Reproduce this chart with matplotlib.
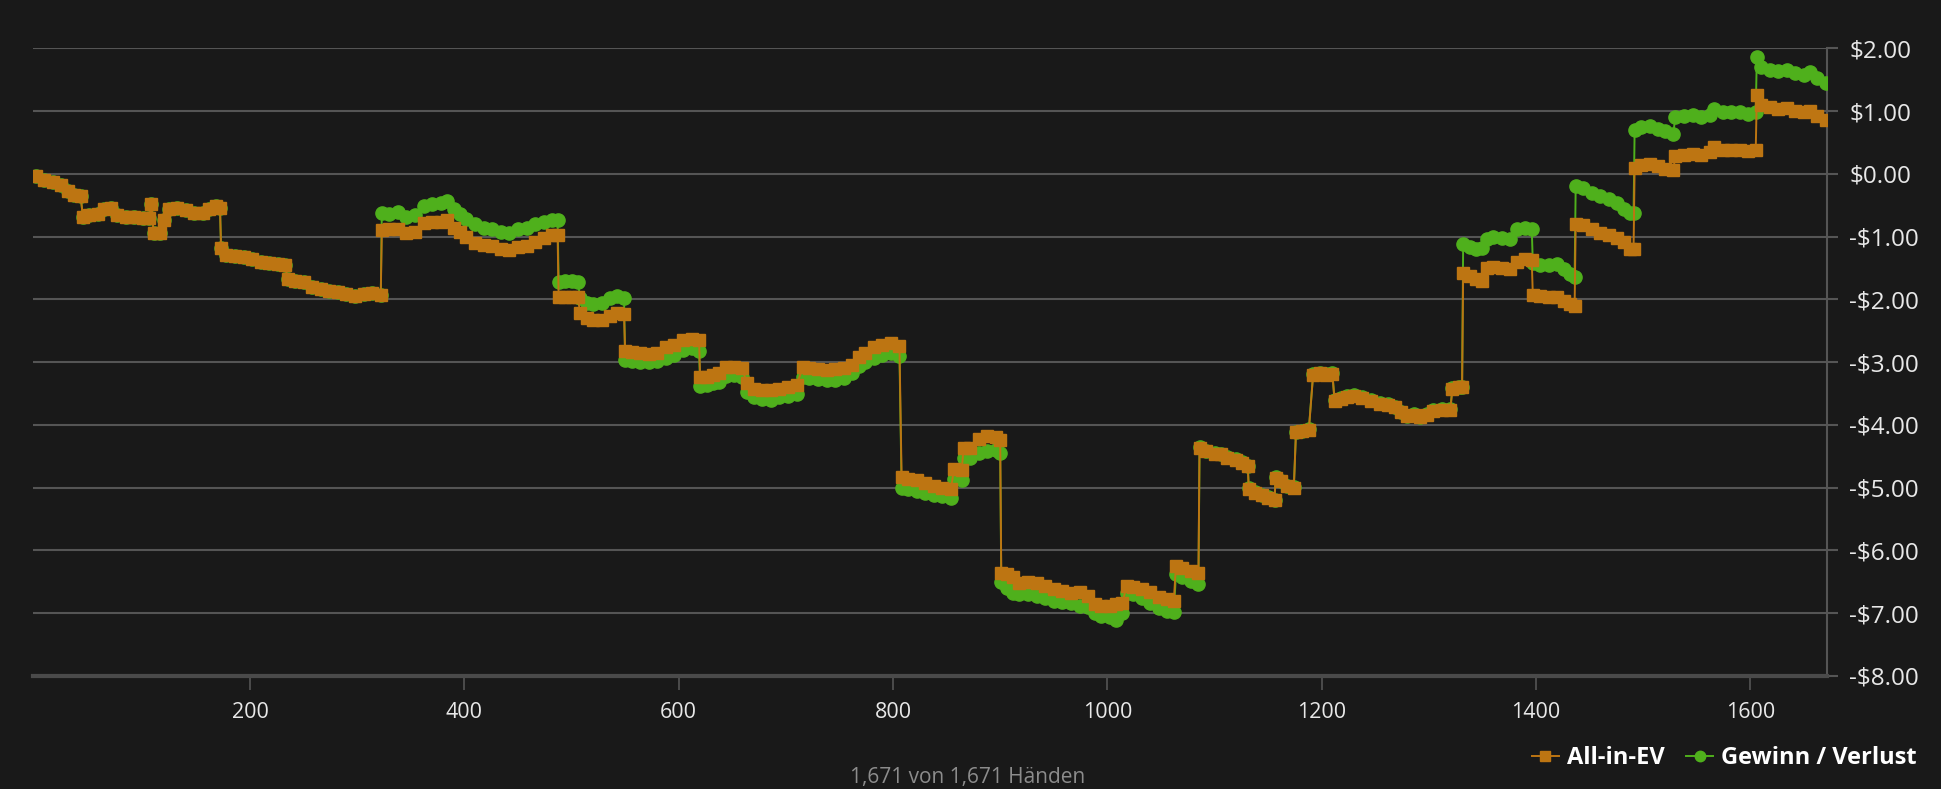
import matplotlib.pyplot as plt

plt.rcParams['font.family'] = ['Open Sans', 'DejaVu Sans']

hands = [0, 8, 16, 24, 30, 36, 42, 44, 50, 58, 64, 70, 76, 84, 92, 100, 106, 108, 110, 116,
         120, 124, 132, 140, 148, 156, 162, 168, 172, 173, 178, 186, 194, 202, 210, 218, 226, 233, 235, 242,
         250, 258, 266, 274, 282, 290, 298, 306, 314, 322,
         323, 330, 338, 346, 354, 362, 370, 378, 384, 390, 396, 402, 410, 418, 426, 434, 442, 450, 458, 466,
         474, 482, 487,
         488, 494, 500, 506, 508, 514, 520, 528, 536, 542, 549,
         550, 556, 564, 572, 580, 588, 596, 604, 612, 619,
         620, 626, 632, 638, 644, 652, 659, 664, 670, 678, 686, 694, 702, 710, 716, 722, 730, 738, 746, 754,
         762, 768, 774, 782, 790, 798, 806,
         808, 814, 822, 830, 838, 846, 854, 857, 864, 866, 872, 880, 888, 896, 900,
         901, 906, 912, 918, 926, 934, 942, 950, 958, 966, 974, 982, 988, 994, 1002, 1008, 1014, 1018, 1024, 1032,
         1040, 1048, 1056, 1062, 1064, 1070, 1078, 1085,
         1086, 1092, 1100, 1106, 1112, 1120, 1126, 1131, 1132, 1138, 1144, 1150, 1156, 1157, 1162, 1168, 1174, 1176,
         1182, 1188, 1192, 1198, 1204, 1210, 1212, 1218, 1224, 1230, 1238, 1246, 1254, 1262, 1268, 1274, 1280, 1286,
         1292, 1298, 1304, 1312, 1320, 1322, 1328, 1331,
         1332, 1338, 1344, 1350, 1354, 1360, 1368, 1376, 1382, 1390, 1396, 1397, 1404, 1412, 1420, 1426, 1432, 1436,
         1437, 1444, 1452, 1460, 1468, 1476, 1482, 1488, 1491, 1492, 1498, 1506, 1514, 1520, 1528, 1530, 1538, 1546,
         1554, 1562, 1566, 1574, 1582, 1590, 1598, 1605, 1606, 1610, 1618, 1626, 1634, 1642, 1650, 1656, 1662, 1671]

all_in_ev = [-0.03, -0.10, -0.13, -0.17, -0.27, -0.34, -0.36, -0.68, -0.66, -0.64, -0.56, -0.55, -0.66, -0.68, -0.68, -0.70, -0.70, -0.48, -0.94, -0.94,
             -0.74, -0.56, -0.54, -0.58, -0.62, -0.62, -0.56, -0.52, -0.55, -1.18, -1.30, -1.31, -1.33, -1.36, -1.40, -1.42, -1.44, -1.46, -1.68, -1.71,
             -1.73, -1.80, -1.84, -1.86, -1.88, -1.92, -1.95, -1.92, -1.90, -1.93,
             -0.89, -0.88, -0.88, -0.94, -0.92, -0.78, -0.76, -0.76, -0.74, -0.86, -0.92, -1.00, -1.10, -1.13, -1.15, -1.20, -1.21, -1.17, -1.15, -1.08,
             -1.02, -0.97, -0.98,
             -1.97, -1.97, -1.96, -1.97, -2.22, -2.30, -2.33, -2.33, -2.26, -2.22, -2.24,
             -2.82, -2.84, -2.85, -2.87, -2.86, -2.76, -2.72, -2.65, -2.63, -2.65,
             -3.24, -3.23, -3.20, -3.18, -3.08, -3.08, -3.10, -3.34, -3.42, -3.45, -3.45, -3.42, -3.40, -3.36, -3.08, -3.10, -3.11, -3.12, -3.11, -3.10,
             -3.04, -2.92, -2.85, -2.76, -2.72, -2.70, -2.74,
             -4.83, -4.86, -4.88, -4.92, -4.97, -5.00, -5.02, -4.70, -4.72, -4.36, -4.36, -4.22, -4.18, -4.20, -4.24,
             -6.36, -6.38, -6.42, -6.52, -6.50, -6.52, -6.56, -6.62, -6.64, -6.68, -6.66, -6.72, -6.86, -6.88, -6.88, -6.86, -6.84, -6.56, -6.58, -6.62,
             -6.66, -6.74, -6.78, -6.80, -6.24, -6.28, -6.32, -6.36,
             -4.36, -4.42, -4.46, -4.47, -4.52, -4.56, -4.60, -4.66, -5.02, -5.08, -5.12, -5.16, -5.20, -4.84, -4.90, -4.98, -5.00, -4.12,
             -4.10, -4.08, -3.20, -3.18, -3.20, -3.19, -3.62, -3.58, -3.55, -3.54, -3.57, -3.62, -3.66, -3.68, -3.72, -3.80, -3.86, -3.84,
             -3.88, -3.84, -3.78, -3.76, -3.76, -3.42, -3.40, -3.40,
             -1.58, -1.62, -1.68, -1.70, -1.50, -1.48, -1.50, -1.52, -1.40, -1.36, -1.38, -1.93, -1.94, -1.96, -1.96, -2.02, -2.08, -2.10,
             -0.80, -0.82, -0.88, -0.94, -0.98, -1.02, -1.08, -1.20, -1.20, 0.10, 0.14, 0.15, 0.12, 0.08, 0.06, 0.28, 0.30, 0.32,
             0.30, 0.34, 0.42, 0.38, 0.38, 0.38, 0.36, 0.38, 1.25, 1.10, 1.06, 1.04, 1.05, 1.00, 0.98, 1.00, 0.92, 0.86]

gewinn_verlust = [-0.03, -0.10, -0.13, -0.17, -0.27, -0.34, -0.36, -0.68, -0.66, -0.64, -0.56, -0.55, -0.66, -0.68, -0.68, -0.70, -0.70, -0.48, -0.94, -0.94,
                  -0.74, -0.56, -0.54, -0.58, -0.62, -0.62, -0.56, -0.52, -0.55, -1.18, -1.30, -1.31, -1.33, -1.36, -1.40, -1.42, -1.44, -1.46, -1.68, -1.71,
                  -1.73, -1.80, -1.84, -1.86, -1.88, -1.92, -1.95, -1.92, -1.90, -1.93,
                  -0.62, -0.64, -0.60, -0.68, -0.66, -0.52, -0.48, -0.46, -0.44, -0.56, -0.64, -0.72, -0.80, -0.86, -0.88, -0.93, -0.94, -0.88, -0.86, -0.80,
                  -0.76, -0.74, -0.73,
                  -1.72, -1.70, -1.71, -1.72, -1.98, -2.05, -2.07, -2.05, -1.98, -1.95, -1.98,
                  -2.97, -2.98, -2.99, -3.00, -2.98, -2.94, -2.88, -2.80, -2.78, -2.82,
                  -3.38, -3.36, -3.33, -3.32, -3.22, -3.20, -3.24, -3.48, -3.55, -3.58, -3.60, -3.56, -3.54, -3.51, -3.24, -3.26, -3.27, -3.28, -3.28, -3.26,
                  -3.18, -3.06, -3.00, -2.93, -2.88, -2.86, -2.90,
                  -5.00, -5.02, -5.06, -5.09, -5.12, -5.14, -5.16, -4.86, -4.88, -4.52, -4.52, -4.45, -4.42, -4.40, -4.44,
                  -6.50, -6.60, -6.68, -6.70, -6.70, -6.72, -6.76, -6.80, -6.82, -6.84, -6.88, -6.90, -7.00, -7.04, -7.06, -7.10, -7.00, -6.68, -6.70, -6.76,
                  -6.84, -6.92, -6.96, -6.98, -6.38, -6.42, -6.48, -6.54,
                  -4.35, -4.41, -4.45, -4.46, -4.51, -4.55, -4.59, -4.65, -5.01, -5.07, -5.11, -5.15, -5.19, -4.83, -4.89, -4.97, -4.99, -4.11,
                  -4.09, -4.07, -3.19, -3.17, -3.19, -3.18, -3.61, -3.57, -3.54, -3.53, -3.56, -3.61, -3.65, -3.67, -3.71, -3.79, -3.85, -3.83,
                  -3.87, -3.83, -3.77, -3.75, -3.75, -3.41, -3.39, -3.39,
                  -1.11, -1.16, -1.20, -1.18, -1.04, -1.00, -1.02, -1.04, -0.88, -0.86, -0.88, -1.42, -1.45, -1.46, -1.44, -1.52, -1.60, -1.64,
                  -0.20, -0.22, -0.30, -0.36, -0.40, -0.46, -0.56, -0.62, -0.62, 0.70, 0.74, 0.76, 0.72, 0.68, 0.64, 0.90, 0.92, 0.94,
                  0.90, 0.94, 1.04, 0.98, 0.98, 0.98, 0.96, 0.98, 1.86, 1.70, 1.66, 1.64, 1.66, 1.60, 1.58, 1.62, 1.52, 1.44]

x_ticks = [200, 400, 600, 800, 1000, 1200, 1400, 1600]
y_ticks = [2, 1, 0, -1, -2, -3, -4, -5, -6, -7, -8]
footer = '1,671 von 1,671 Händen'

bg = '#191919'
grid_col = '#555555'
orange = '#bd7512'
green = '#4fb01c'


def money(v):
    return ('-$%.2f' % -v) if v < 0 else ('$%.2f' % v)


fig = plt.figure(figsize=(19.41, 7.89), dpi=100, facecolor=bg)
ax = fig.add_axes([33 / 1941, 113 / 789, 1794 / 1941, 627.7 / 789])
ax.set_facecolor(bg)

net_line, = ax.plot(hands, gewinn_verlust, color=green, lw=1.4, marker='o', ms=9.5, mec=green, mfc=green,
                    label='Gewinn / Verlust', zorder=3)
ev_line, = ax.plot(hands, all_in_ev, color=orange, lw=1.4, marker='s', ms=8.5, mec=orange, mfc=orange,
                   label='All-in-EV', zorder=4)

ax.set_xlim(-2.5, 1671.5)
ax.set_ylim(-8, 2)
ax.set_axisbelow(True)

ax.yaxis.tick_right()
ax.set_yticks(y_ticks)
ax.set_yticklabels([money(v) for v in y_ticks])
ax.set_xticks(x_ticks)
ax.grid(axis='y', color=grid_col, lw=1.5)
ax.tick_params(axis='y', colors=grid_col, labelcolor='#e8e8e8', labelsize=17.5, length=8, width=1.5, pad=8)
ax.tick_params(axis='x', colors=grid_col, labelcolor='#e8e8e8', labelsize=15.5, length=10, width=1.2, pad=9)

for side in ['left', 'top']:
    ax.spines[side].set_visible(False)
ax.spines['right'].set_color(grid_col)
ax.spines['right'].set_linewidth(1.5)
ax.spines['bottom'].set_color('#4a4a4a')
ax.spines['bottom'].set_linewidth(3)

leg = fig.legend(handles=[ev_line, net_line], loc='center right', bbox_to_anchor=(1938 / 1941, 1 - 758 / 789),
                 ncol=2, frameon=False, prop={'weight': 'bold', 'size': 17}, labelcolor='white',
                 handlelength=1.15, handletextpad=0.34, columnspacing=0.9)
for h in leg.legend_handles:
    h.set_markersize(7.5)

fig.text(968 / 1941, 1 - 777 / 789, footer, ha='center', va='center', color='#8c8c8c', fontsize=15)

plt.savefig('out.png', dpi=100, facecolor=bg)
